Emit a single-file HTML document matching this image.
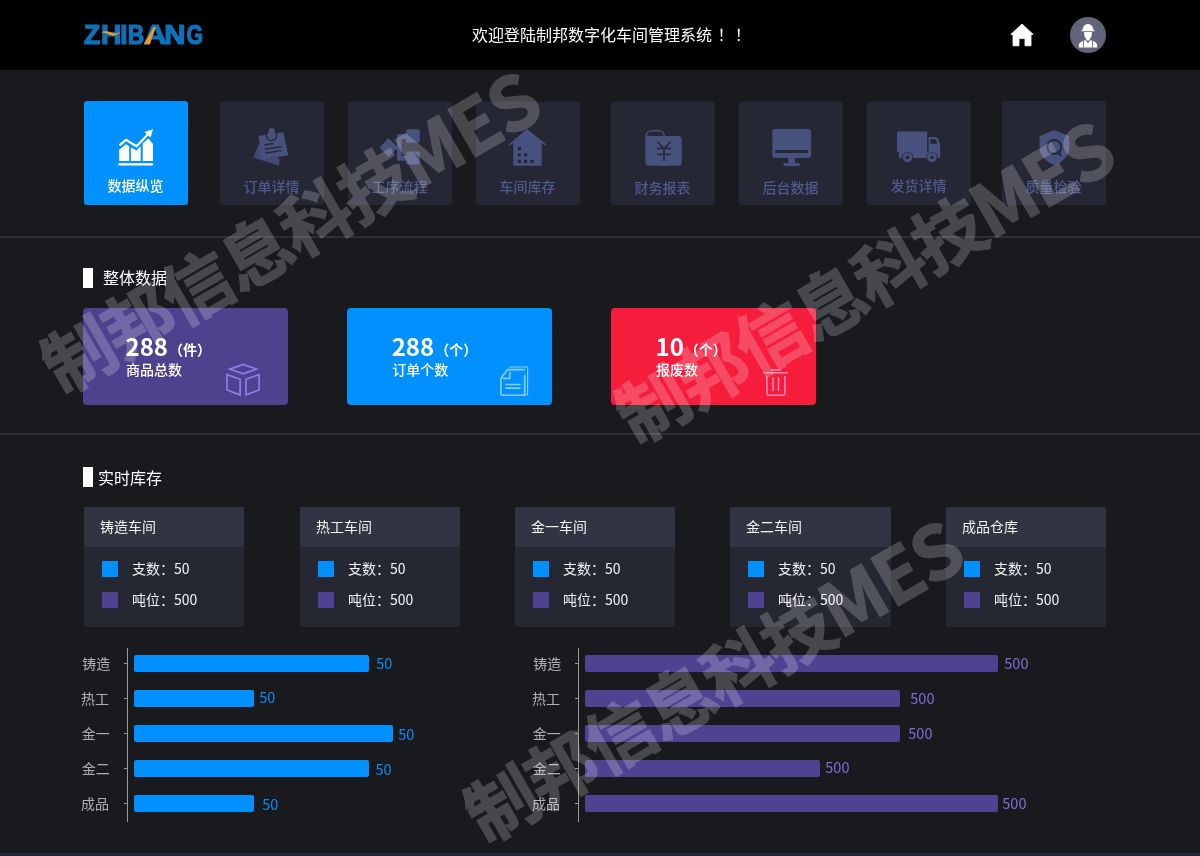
<!DOCTYPE html>
<html lang="zh-CN">
<head>
<meta charset="utf-8">
<title>制邦数字化车间管理系统</title>
<style>
*{margin:0;padding:0;box-sizing:border-box}
html,body{width:1200px;height:856px;overflow:hidden;background:#191a1e}
body{position:relative;font-family:"Liberation Sans","Noto Sans CJK SC",sans-serif;color:#fff}
.abs{position:absolute}
#hdr{left:0;top:0;width:1200px;height:70px;background:#000}
.hr{left:0;width:1200px;height:2px;background:#2f3036}
.tile{width:104px;height:104px;border-radius:3px;background:#252734}
.tile.h{box-shadow:0 -1px 0 rgba(37,39,52,.45)}
.tile.on{background:#0090ff}
.tl{width:104px;text-align:center;font-size:14px;line-height:20px;color:#4f5b8f;white-space:nowrap;font-family:"Noto Sans CJK SC",sans-serif;font-weight:500}
.tl.on{color:#fff}
.st{font-size:16px;line-height:22px;color:#fff;white-space:nowrap;font-family:"Noto Sans CJK SC",sans-serif}
.card{width:205px;height:97px;border-radius:4px}
.cn{font-family:"Noto Sans CJK SC",sans-serif;font-weight:700;font-size:24px;line-height:28px;color:#fff;white-space:nowrap}
.cn span{font-size:14px;font-weight:700;margin-left:1px;position:relative;top:-1px}
.cl{font-family:"Noto Sans CJK SC",sans-serif;font-weight:500;font-size:14px;line-height:18px;color:#fff;white-space:nowrap}
.bx{width:160px;height:120px;background:#252733;border-radius:2px}
.bxh{width:160px;height:40px;background:#313543;border-radius:2px 2px 0 0}
.bt{font-family:"Noto Sans CJK SC",sans-serif;font-size:14px;line-height:20px;color:#f2f2f2;white-space:nowrap}
.sq{width:16px;height:16px}
.b1{background:#0090ff}.b2{background:#4e4291}
.bar{height:17px;border-radius:2px}
.ax{width:1px;background:#9a9a9a}
.yl{font-family:"Noto Sans CJK SC",sans-serif;font-size:14px;line-height:20px;color:#b0b0b2;white-space:nowrap}
.v1{font-family:"Noto Sans CJK SC",sans-serif;font-size:14.5px;line-height:20px;color:#0a8cf5;white-space:nowrap}
.v2{font-family:"Noto Sans CJK SC",sans-serif;font-size:14.5px;line-height:20px;color:#7b6fd6;white-space:nowrap}
.wm i{font-style:normal;font-size:74px;letter-spacing:-2px}
.wm{font-family:"Noto Sans CJK SC",sans-serif;font-weight:700;font-size:70.5px;line-height:70.5px;letter-spacing:-2.2px;color:#fff;-webkit-text-stroke:1.2px #fff;opacity:.2;white-space:nowrap;transform:translate(-50%,-50%) rotate(-30deg);z-index:9;pointer-events:none}
</style>
</head>
<body>
<div id="hdr" class="abs"></div>
<svg class="abs" style="left:80px;top:15px" width="130" height="40" viewBox="80 15 130 40">
<g font-family="Liberation Sans, sans-serif" font-weight="700" font-size="27.0" fill="#0d72b9" stroke="#0d72b9" stroke-width="1.2">
<text transform="translate(83.95,43.7) scale(0.978,1)">Z</text>
<text transform="translate(100.93,43.7) scale(1.041,1)">H</text>
<text transform="translate(120.30,43.7) scale(0.968,1)">I</text>
<text transform="translate(127.86,43.7) scale(0.846,1)">B</text>
<text transform="translate(143.80,43.7) scale(1.183,1)">A</text>
<text transform="translate(164.17,43.7) scale(1.089,1)">N</text>
<text transform="translate(186.49,43.7) scale(0.791,1)">G</text>
</g>
<polygon points="143.9,44.3 149.8,44.3 155.8,27 153.6,27" fill="#f39a1e"/>
<path d="M101 32.2 C105 30.6 108 31.2 111 32.6 C114 34 117 34 120.6 31.6 C118 35.6 114 36.4 110.6 35 C107.4 33.6 104.6 32.6 101 32.2Z" fill="#f39a1e"/>
</svg>
<div class="abs" style="left:472px;top:23.2px;font-size:16px;line-height:22px;white-space:nowrap;font-family:'Noto Sans CJK SC',sans-serif;color:#fff">欢迎登陆制邦数字化车间管理系统<span style="font-family:'Noto Sans CJK JP',sans-serif;margin-left:5.5px;letter-spacing:1.2px">！！</span></div>
<svg class="abs" style="left:1008px;top:20px" width="28" height="30" viewBox="1008 20 28 30">
<path d="M1022 24 L1033.2 34.4 L1031 34.4 L1031 45.8 L1025 45.8 L1025 38.6 L1019 38.6 L1019 45.8 L1013 45.8 L1013 34.4 L1010.8 34.4 Z" fill="#fff" stroke="#fff" stroke-width="0.8" stroke-linejoin="round"/>
</svg>
<svg class="abs" style="left:1068px;top:15px" width="40" height="40" viewBox="1068 15 40 40">
<circle cx="1088" cy="35" r="18" fill="#62647a"/>
<path d="M1081.4 31.2 L1094.6 31.2 L1094.6 30.2 L1093.4 30.2 C1093.4 26.6 1091 24 1088 24 C1085 24 1082.6 26.6 1082.6 30.2 L1081.4 30.2 Z" fill="#fff"/>
<path d="M1084.2 32 L1091.8 32 L1091.8 34.6 C1091.8 36.6 1090.8 38 1089.8 38.6 L1089.8 40.4 L1086.2 40.4 L1086.2 38.6 C1085.2 38 1084.2 36.6 1084.2 34.6 Z" fill="#fff"/>
<path d="M1078.8 47.4 L1078.8 45.2 C1078.8 42.6 1082 41 1085.4 40.2 L1088 43 L1090.6 40.2 C1094 41 1097.2 42.6 1097.2 45.2 L1097.2 47.4 Z" fill="#fff"/>
<path d="M1083.4 40.6 L1083.4 47.4 M1092.6 40.6 L1092.6 47.4" stroke="#62647a" stroke-width="0.9"/>
</svg>
<div class="abs tile on" style="left:84px;top:101px;height:104px"></div>
<div class="abs tl on" style="left:83.5px;top:174.7px">数据纵览</div>
<div class="abs tile h" style="left:220px;top:102px;height:103px"></div>
<div class="abs tl" style="left:219.5px;top:176.2px">订单详情</div>
<div class="abs tile h" style="left:348px;top:102px;height:103px"></div>
<div class="abs tl" style="left:347.5px;top:176.2px">工序流程</div>
<div class="abs tile h" style="left:476px;top:102px;height:103px"></div>
<div class="abs tl" style="left:475.5px;top:176.2px">车间库存</div>
<div class="abs tile h" style="left:611px;top:102px;height:103px"></div>
<div class="abs tl" style="left:610.5px;top:176.7px">财务报表</div>
<div class="abs tile h" style="left:739px;top:102px;height:103px"></div>
<div class="abs tl" style="left:738.5px;top:176.7px">后台数据</div>
<div class="abs tile h" style="left:867px;top:102px;height:103px"></div>
<div class="abs tl" style="left:866.5px;top:174.7px">发货详情</div>
<div class="abs tile" style="left:1002px;top:101px;height:104px"></div>
<div class="abs tl" style="left:1001.5px;top:176.2px">质量检验</div>
<svg class="abs" style="left:84px;top:101px" width="104" height="104" viewBox="0 0 104 104">
<g fill="#fff">
<rect x="34.3" y="62.2" width="34.8" height="2.3"/>
<polygon points="35.2,60.1 35.2,48.8 42,43.2 45.2,45.2 45.2,60.1"/>
<polygon points="46.9,60.1 46.9,46.2 52.5,49.4 56.7,45 56.7,60.1"/>
<polygon points="58.7,60.1 58.7,42.6 64.4,37.6 69,43 69,60.1"/>
<polygon points="69,28.2 60.2,31 66.6,36.6"/>
</g>
<polyline points="35.4,44.4 42,38.8 52.5,45.3 64,33.2" fill="none" stroke="#fff" stroke-width="2.3" stroke-linejoin="miter"/>
</svg>
<svg class="abs" style="left:216px;top:98px" width="112" height="112" viewBox="216 98 112 112">
<polygon points="258.8,144 253.3,157.6 279,165.8 279.6,159" fill="#414a75"/>
<polygon points="258.5,136 283.4,132.3 288.2,155.3 262,159.8" fill="#47517e"/>
<circle cx="271.6" cy="135.4" r="5.2" fill="#47517e" stroke="#252734" stroke-width="1.3"/>
<circle cx="271.6" cy="131" r="3" fill="#47517e"/>
<path d="M264.2 145 L273.6 143.5 M264.8 149 L282 146.6 M265.6 153 L281.4 150.6" stroke="#252734" stroke-width="1.4" fill="none"/>
</svg>
<svg class="abs" style="left:344px;top:98px" width="112" height="112" viewBox="344 98 112 112">
<polygon points="379.3,147.6 388.6,138.3 398,147.6 388.6,157" fill="#47517e"/>
<path d="M406 134.1 L398.5 134.1 Q397 134.1 397 135.6 L397 159.3 Q397 160.8 398.5 160.8 L406 160.8 L406 156 L401.5 156 L401.5 139 L406 139 Z" fill="#47517e"/>
<rect x="406" y="129.3" width="13.8" height="13.5" rx="2" fill="#47517e"/>
<rect x="406" y="151.6" width="13.8" height="13" rx="2" fill="#47517e"/>
</svg>
<svg class="abs" style="left:472px;top:98px" width="112" height="112" viewBox="472 98 112 112">
<polygon points="527,129 546.4,144.4 545.4,145.6 541.7,142.8 541.7,165.8 513.2,165.8 513.2,142.8 509.6,145.6 508.6,144.4" fill="#47517e"/>
<g fill="#252734"><rect x="517.8" y="147" width="3.2" height="3.2"/><rect x="517.8" y="153.3" width="3.2" height="3.2"/><rect x="524" y="153.3" width="3.2" height="3.2"/><rect x="517.8" y="159.8" width="3.2" height="3.2"/><rect x="524" y="159.8" width="3.2" height="3.2"/><rect x="530.2" y="159.8" width="3.2" height="3.2"/></g>
</svg>
<svg class="abs" style="left:607px;top:98px" width="112" height="112" viewBox="607 98 112 112">
<rect x="645.3" y="136" width="36.5" height="29.8" rx="3.6" fill="#47517e"/>
<path d="M646.1 140 L646.1 137 C646.1 133 649 130.8 652 130.8 L658.4 130.8 C661.6 130.8 664.4 133 664.4 137" fill="none" stroke="#47517e" stroke-width="1.6"/>
<path d="M657.4 141.8 L664 148.8 L670.6 141.8 M657 148.6 L671 148.6 M657 154.4 L671 154.4 M664 148.6 L664 161" fill="none" stroke="#252734" stroke-width="1.5"/>
</svg>
<svg class="abs" style="left:735px;top:98px" width="112" height="112" viewBox="735 98 112 112">
<rect x="772.3" y="129" width="38.8" height="29" rx="3" fill="#47517e"/>
<rect x="775.3" y="150" width="32.4" height="3" fill="#252734"/>
<rect x="788.4" y="157" width="6.6" height="7" fill="#47517e"/>
<rect x="783.4" y="163" width="16.4" height="3" rx="1.5" fill="#47517e"/>
</svg>
<svg class="abs" style="left:863px;top:98px" width="112" height="112" viewBox="863 98 112 112">
<rect x="897" y="131.4" width="30.1" height="20.6" rx="1" fill="#47517e"/>
<path d="M899 152 L928.6 152 L928.6 137 L935.4 137 C938 137 940.2 142 940.2 146 L940.2 158 L899 158 Z" fill="#47517e"/>
<path d="M930.4 139.2 L935 139.2 C936 139.2 937 141.6 937 143.8 L930.4 143.8 Z" fill="#252734"/>
<circle cx="907.5" cy="157.5" r="5.6" fill="#252734"/><circle cx="932" cy="157.5" r="5.6" fill="#252734"/>
<circle cx="907.5" cy="157.5" r="3.3" fill="none" stroke="#47517e" stroke-width="3"/>
<circle cx="932" cy="157.5" r="3.3" fill="none" stroke="#47517e" stroke-width="3"/>
</svg>
<svg class="abs" style="left:998px;top:98px" width="112" height="112" viewBox="998 98 112 112">
<path d="M1054.4 130 L1069.2 136 L1069.2 148 C1069.2 156 1062 162.4 1054.4 165.4 C1046.8 162.4 1039.6 156 1039.6 148 L1039.6 136 Z" fill="#47517e"/>
<circle cx="1054.3" cy="147" r="7" fill="none" stroke="#252734" stroke-width="2"/>
<path d="M1057.6 151 L1061.2 156" stroke="#252734" stroke-width="2.2"/>
</svg>
<div class="abs hr" style="top:236px"></div>
<div class="abs hr" style="top:433px"></div>
<div class="abs" style="left:0;top:853px;width:1200px;height:3px;background:#252738"></div>
<div class="abs" style="left:83px;top:268px;width:10px;height:20px;background:#fff"></div>
<div class="abs st" style="left:103px;top:266.2px">整体数据</div>
<div class="abs card" style="left:83px;top:308px;background:#4e428f"></div>
<div class="abs cn" style="left:125.5px;top:331.7px">288<span>（件）</span></div>
<div class="abs cl" style="left:126.0px;top:359.7px">商品总数</div>
<div class="abs card" style="left:347px;top:308px;background:#0090ff"></div>
<div class="abs cn" style="left:391.7px;top:331.7px">288<span>（个）</span></div>
<div class="abs cl" style="left:392.2px;top:359.7px">订单个数</div>
<div class="abs card" style="left:611px;top:308px;background:#f51c3c"></div>
<div class="abs cn" style="left:655.5px;top:331.7px">10<span>（个）</span></div>
<div class="abs cl" style="left:656.0px;top:359.7px">报废数</div>
<svg class="abs" style="left:215px;top:355px" width="60" height="50" viewBox="215 355 60 50">
<g fill="none" stroke="#8b7ee9" stroke-width="1.7" stroke-linejoin="miter">
<polygon points="229.8,369.1 243,364.4 256.4,369.1 243,373.8"/>
<polygon points="227,374.6 240.1,379.3 240.1,394.9 227,390"/>
<polygon points="246,379.3 259.1,374.6 259.1,390 246,394.9"/>
</g></svg>
<svg class="abs" style="left:485px;top:355px" width="60" height="50" viewBox="485 355 60 50">
<g fill="none" stroke="#8ccdff" stroke-linejoin="round" stroke-linecap="round">
<path stroke-width="1.6" d="M524.4 369.6 L507.6 369.6 L500.9 378.4 L500.9 394 Q500.9 395.3 502.2 395.3 L524.7 395.3 L524.7 375.4"/>
<path stroke-width="1.6" d="M509.8 372.4 L509.8 378.4 L503.4 378.4"/>
<path stroke-width="1.6" d="M506 384.5 L520 384.5 M506 388.1 L520 388.1"/>
<path stroke-width="1.1" d="M509.4 367 L527.6 367 L527.6 394.6 L526 394.6"/>
</g></svg>
<svg class="abs" style="left:745px;top:355px" width="60" height="50" viewBox="745 355 60 50">
<g fill="none" stroke="#fd86b0" stroke-width="1.6">
<path d="M763.1 372.8 L788.1 372.8 M771 369.9 L780.6 369.9"/>
<path d="M766.9 376 L766.9 393 Q766.9 395.3 769.2 395.3 L782.6 395.3 Q784.9 395.3 784.9 393 L784.9 376"/>
<path d="M772.9 377 L772.9 391.2 M778.5 377 L778.5 391.2"/>
</g></svg>
<div class="abs" style="left:83px;top:467px;width:10px;height:20px;background:#fff"></div>
<div class="abs st" style="left:98px;top:465.7px">实时库存</div>
<div class="abs bx" style="left:84px;top:507px;width:160px"></div>
<div class="abs bxh" style="left:84px;top:507px;width:160px"></div>
<div class="abs bt" style="left:100px;top:516.2px">铸造车间</div>
<div class="abs sq b1" style="left:102px;top:561px"></div>
<div class="abs sq b2" style="left:102px;top:592px"></div>
<div class="abs bt" style="left:132px;top:557.5px">支数：50</div>
<div class="abs bt" style="left:132px;top:588.5px">吨位：500</div>
<div class="abs bx" style="left:300px;top:507px;width:160px"></div>
<div class="abs bxh" style="left:300px;top:507px;width:160px"></div>
<div class="abs bt" style="left:316px;top:516.2px">热工车间</div>
<div class="abs sq b1" style="left:318px;top:561px"></div>
<div class="abs sq b2" style="left:318px;top:592px"></div>
<div class="abs bt" style="left:348px;top:557.5px">支数：50</div>
<div class="abs bt" style="left:348px;top:588.5px">吨位：500</div>
<div class="abs bx" style="left:515px;top:507px;width:160px"></div>
<div class="abs bxh" style="left:515px;top:507px;width:160px"></div>
<div class="abs bt" style="left:531px;top:516.2px">金一车间</div>
<div class="abs sq b1" style="left:533px;top:561px"></div>
<div class="abs sq b2" style="left:533px;top:592px"></div>
<div class="abs bt" style="left:563px;top:557.5px">支数：50</div>
<div class="abs bt" style="left:563px;top:588.5px">吨位：500</div>
<div class="abs bx" style="left:730px;top:507px;width:161px"></div>
<div class="abs bxh" style="left:730px;top:507px;width:161px"></div>
<div class="abs bt" style="left:746px;top:516.2px">金二车间</div>
<div class="abs sq b1" style="left:748px;top:561px"></div>
<div class="abs sq b2" style="left:748px;top:592px"></div>
<div class="abs bt" style="left:778px;top:557.5px">支数：50</div>
<div class="abs bt" style="left:778px;top:588.5px">吨位：500</div>
<div class="abs bx" style="left:946px;top:507px;width:160px"></div>
<div class="abs bxh" style="left:946px;top:507px;width:160px"></div>
<div class="abs bt" style="left:962px;top:516.2px">成品仓库</div>
<div class="abs sq b1" style="left:964px;top:561px"></div>
<div class="abs sq b2" style="left:964px;top:592px"></div>
<div class="abs bt" style="left:994px;top:557.5px">支数：50</div>
<div class="abs bt" style="left:994px;top:588.5px">吨位：500</div>
<div class="abs ax" style="left:127px;top:648px;height:174px"></div>
<div class="abs" style="left:124px;top:663px;width:4px;height:1px;background:#9a9a9a"></div>
<div class="abs yl" style="left:82.2px;top:652.5px">铸造</div>
<div class="abs bar b1" style="left:134px;top:655px;width:235px"></div>
<div class="abs v1" style="left:376.3px;top:652.9px">50</div>
<div class="abs" style="left:124px;top:698px;width:4px;height:1px;background:#9a9a9a"></div>
<div class="abs yl" style="left:81px;top:687.5px">热工</div>
<div class="abs bar b1" style="left:134px;top:690px;width:120px"></div>
<div class="abs v1" style="left:259.3px;top:687.0px">50</div>
<div class="abs" style="left:124px;top:733px;width:4px;height:1px;background:#9a9a9a"></div>
<div class="abs yl" style="left:81.8px;top:722.5px">金一</div>
<div class="abs bar b1" style="left:134px;top:725px;width:259px"></div>
<div class="abs v1" style="left:398.3px;top:723.9px">50</div>
<div class="abs" style="left:124px;top:768px;width:4px;height:1px;background:#9a9a9a"></div>
<div class="abs yl" style="left:81.8px;top:757.5px">金二</div>
<div class="abs bar b1" style="left:134px;top:760px;width:235px"></div>
<div class="abs v1" style="left:375.5px;top:758.9px">50</div>
<div class="abs" style="left:124px;top:803px;width:4px;height:1px;background:#9a9a9a"></div>
<div class="abs yl" style="left:81px;top:792.5px">成品</div>
<div class="abs bar b1" style="left:134px;top:795px;width:120px"></div>
<div class="abs v1" style="left:262.3px;top:793.8px">50</div>
<div class="abs ax" style="left:578px;top:648px;height:174px"></div>
<div class="abs" style="left:575px;top:663px;width:4px;height:1px;background:#9a9a9a"></div>
<div class="abs yl" style="left:533.2px;top:652.5px">铸造</div>
<div class="abs bar b2" style="left:585px;top:655px;width:413px"></div>
<div class="abs v2" style="left:1004.3px;top:652.9px">500</div>
<div class="abs" style="left:575px;top:698px;width:4px;height:1px;background:#9a9a9a"></div>
<div class="abs yl" style="left:532px;top:687.5px">热工</div>
<div class="abs bar b2" style="left:585px;top:690px;width:315px"></div>
<div class="abs v2" style="left:910.3px;top:687.9px">500</div>
<div class="abs" style="left:575px;top:733px;width:4px;height:1px;background:#9a9a9a"></div>
<div class="abs yl" style="left:532.8px;top:722.5px">金一</div>
<div class="abs bar b2" style="left:585px;top:725px;width:315px"></div>
<div class="abs v2" style="left:908.3px;top:723.0px">500</div>
<div class="abs" style="left:575px;top:768px;width:4px;height:1px;background:#9a9a9a"></div>
<div class="abs yl" style="left:532.8px;top:757.5px">金二</div>
<div class="abs bar b2" style="left:585px;top:760px;width:235px"></div>
<div class="abs v2" style="left:825.3px;top:757.3px">500</div>
<div class="abs" style="left:575px;top:803px;width:4px;height:1px;background:#9a9a9a"></div>
<div class="abs yl" style="left:532px;top:792.5px">成品</div>
<div class="abs bar b2" style="left:585px;top:795px;width:413px"></div>
<div class="abs v2" style="left:1002.3px;top:793.0px">500</div>
<div class="abs wm" style="left:288px;top:229px">制邦信息科技<i>MES</i></div>
<div class="abs wm" style="left:862px;top:279px">制邦信息科技<i>MES</i></div>
<div class="abs wm" style="left:710.5px;top:678px">制邦信息科技<i>MES</i></div>
</body>
</html>
